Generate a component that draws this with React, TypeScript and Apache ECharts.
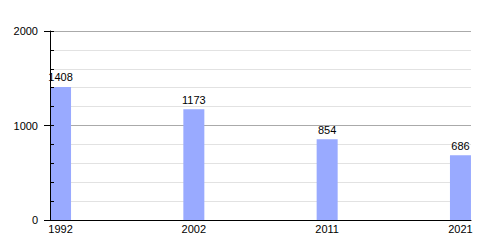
import React, { useEffect, useRef } from "react";
import * as echarts from "echarts";

const years = ["1992", "2002", "2011", "2021"];
const values = [1408, 1173, 854, 686];
const yTicks = [0, 1000, 2000];

export default function App() {
  const ref = useRef<HTMLDivElement>(null);
  useEffect(() => {
    if (!ref.current) return;
    const chart = echarts.init(ref.current, null, { renderer: "svg" });
    const font = "Liberation Sans, Arial, sans-serif";
    const pad = 0.079;
    chart.setOption({
      animation: false,
      grid: { left: 50, right: 29, top: 31, bottom: 30 },
      xAxis: {
        type: "value",
        min: -pad,
        max: years.length - 1 + pad,
        z: 5,
        axisLine: { show: true, onZero: false, lineStyle: { color: "#000", width: 1 } },
        axisTick: { show: false },
        splitLine: { show: false },
        axisLabel: {
          customValues: years.map((_, i) => i),
          formatter: (v: number) => years[Math.round(v)] ?? "",
          color: "#000",
          fontSize: 11,
          fontFamily: font,
          margin: 3,
        },
      },
      yAxis: [
        {
          type: "value",
          min: yTicks[0],
          max: yTicks[yTicks.length - 1],
          interval: 1000,
          axisLine: { show: false, onZero: false },
          axisTick: { show: true, length: 6, lineStyle: { color: "#000" } },
          axisLabel: {
            color: "#000",
            fontSize: 11,
            fontFamily: font,
            margin: 12,
            formatter: (v: number) => String(v),
          },
          splitLine: { show: true, lineStyle: { color: "#aaaaaa" } },
          minorTick: { show: false, splitNumber: 5 },
          minorSplitLine: { show: true, lineStyle: { color: "#e2e2e2" } },
        },
        {
          type: "value",
          position: "left",
          min: 0,
          max: 2000,
          interval: 200,
          z: 5,
          axisLine: { show: true, onZero: false, lineStyle: { color: "#000" } },
          axisTick: { show: true, inside: true, length: 4, lineStyle: { color: "#000" } },
          axisLabel: { show: false },
          splitLine: { show: false },
        },
      ],
      series: [
        {
          type: "bar",
          yAxisIndex: 0,
          barWidth: 21,
          data: values.map((v, i) => [i, v]),
          itemStyle: { color: "#99aaff" },
          label: {
            show: true,
            position: "top",
            distance: 4,
            color: "#000",
            fontSize: 11,
            fontFamily: font,
            formatter: (p: any) => String(p.value[1]),
          },
        },
      ],
    });
    return () => chart.dispose();
  }, []);
  return <div ref={ref} style={{ width: 500, height: 250, position: "absolute", left: 0, top: 0 }} />;
}
